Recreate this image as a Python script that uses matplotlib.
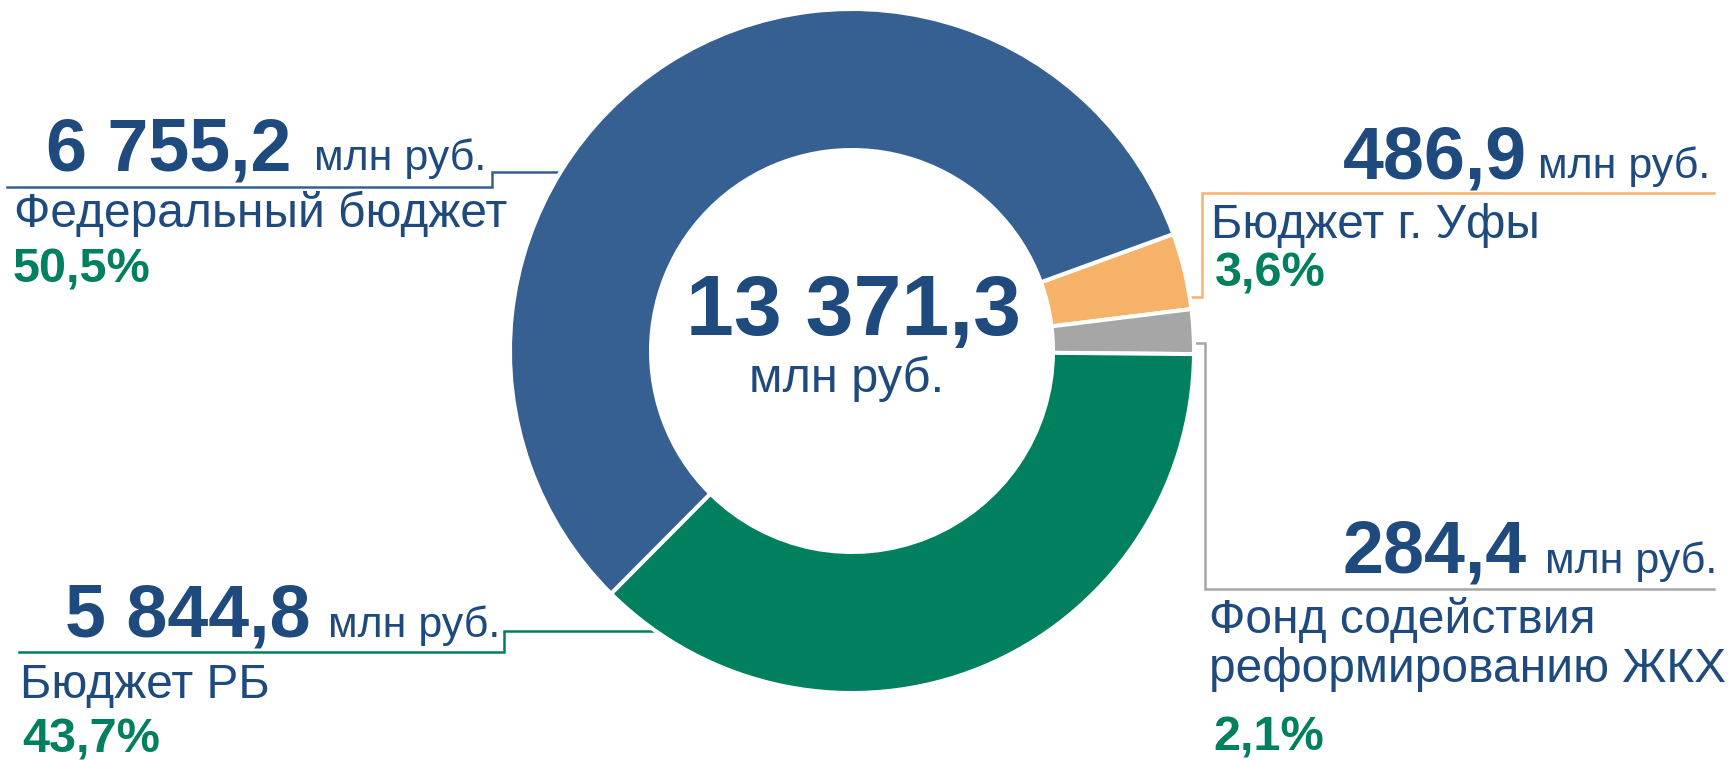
import matplotlib.pyplot as plt

W, H = 1732, 760

# data, in the order the slices run clockwise from the right side
sources = ['Бюджет г. Уфы', 'Фонд содействия\nреформированию ЖКХ', 'Бюджет РБ', 'Федеральный бюджет']
amounts = [486.9, 284.4, 5844.8, 6755.2]
# the ring in the source picture is not drawn to scale: angular shares
ring_shares = [3.6, 2.1, 37.3, 57.0]
unit = 'млн руб.'

colors = ['#F7B26A', '#A6A6A6', '#00805F', '#376092']
dark_blue = '#1F4A7E'
green = '#00805F'


def fmt(v):
    return f'{v:,.1f}'.replace(',', ' ').replace('.', ',')


def py(y):
    # pixel row (from top) -> data y
    return H - y


plt.rcParams['font.family'] = ['Liberation Sans', 'DejaVu Sans']

fig = plt.figure(figsize=(W / 100, H / 100), dpi=100)
ax = fig.add_axes([0, 0, 1, 1])

cx, cy = 852, 351
ax.pie(ring_shares, colors=colors, startangle=20, counterclock=False,
       radius=342, center=(cx, py(cy)),
       wedgeprops=dict(width=141, edgecolor='white', linewidth=2.9))
ax.set_xlim(0, W)
ax.set_ylim(0, H)
ax.set_aspect('equal')
ax.axis('off')

total = sum(amounts)
ax.text(854, py(335), fmt(total), ha='center', va='baseline',
        fontsize=62, fontweight='bold', color=dark_blue)
ax.text(847, py(392), unit, ha='center', va='baseline', fontsize=35, color=dark_blue)

# label positions (pixels from top-left) and leader lines
layout = [
    dict(num=(1527, 178, 'right'), unit=(1538, 178), name=(1211, 238), pct=(1215, 287),
         line=[(1175, 297), (1202, 297), (1202, 193), (1714, 193)]),
    dict(num=(1527, 573, 'right'), unit=(1545, 573), name=(1209, 633), pct=(1213, 751),
         line=[(1175, 343), (1205, 343), (1205, 589), (1714, 589)]),
    dict(num=(65, 637, 'left'), unit=(328, 637), name=(20, 698), pct=(22, 752),
         line=[(675, 631), (504, 631), (504, 652), (19, 652)]),
    dict(num=(46, 170, 'left'), unit=(314, 170), name=(14, 227), pct=(13, 283),
         line=[(580, 172), (492, 172), (492, 187), (7, 187)]),
]

for i, lay in enumerate(layout):
    xs = [p[0] for p in lay['line']]
    ys = [py(p[1]) for p in lay['line']]
    ax.plot(xs, ys, color=colors[i], lw=1.8, zorder=0, solid_joinstyle='miter')

    nx, ny, nha = lay['num']
    ax.text(nx, py(ny), fmt(amounts[i]), ha=nha, va='baseline',
            fontsize=53, fontweight='bold', color=dark_blue)
    ux, uy = lay['unit']
    ax.text(ux, py(uy), unit, ha='left', va='baseline', fontsize=31, color=dark_blue)

    tx, ty = lay['name']
    for k, line in enumerate(sources[i].split('\n')):
        ax.text(tx, py(ty + 49 * k), line, ha='left', va='baseline', fontsize=34.5, color=dark_blue)

    share = amounts[i] / total * 100
    px_, py_ = lay['pct']
    ax.text(px_, py(py_), f'{share:.1f}%'.replace('.', ','), ha='left', va='baseline',
            fontsize=35, fontweight='bold', color=green)

fig.savefig('out.png', dpi=100)
